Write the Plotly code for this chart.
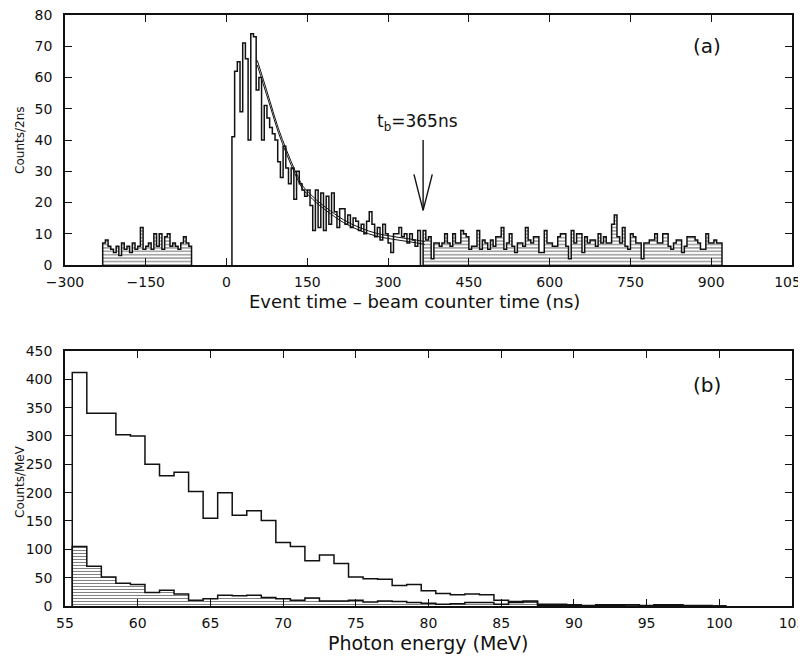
import numpy as np
import plotly.graph_objects as go

# ---- panel (a): event time spectrum, 5 ns bins ----
BIN_A = 5
left_start = -230
left_counts = [7, 8, 6, 5, 4, 6, 3, 7, 5, 6, 4, 7, 5, 6, 12, 5, 6, 7, 5, 10,
               6, 10, 5, 9, 10, 6, 7, 6, 5, 7, 9, 7, 6]

prompt_start = 10
prompt_counts = [41, 62, 65, 49, 71, 66, 40, 74, 73, 56, 60, 40, 51, 47, 44, 42,
                 40, 33, 28, 38, 31, 26, 31, 21, 30, 26, 24, 22, 24, 19, 11, 24,
                 12, 23, 11, 22, 13, 23, 17, 12, 18, 18, 13, 16, 12, 15, 14, 11,
                 13, 10, 14, 17, 13, 9, 12, 8, 13, 10, 7, 4, 10, 10, 12, 9, 10,
                 7, 10, 8, 6, 11]

late_start = 365
late_counts = [11, 8, 9, 2, 7, 7, 6, 7, 10, 7, 6, 10, 7, 7, 11, 10, 9, 5, 6, 6,
               11, 5, 8, 7, 5, 8, 6, 9, 9, 12, 5, 7, 10, 6, 4, 7, 7, 6, 12, 8,
               7, 9, 9, 4, 4, 11, 7, 7, 6, 6, 9, 10, 10, 6, 2, 11, 7, 10, 10, 4,
               9, 7, 8, 8, 6, 10, 7, 9, 7, 7, 13, 16, 9, 7, 12, 6, 5, 10, 9, 7,
               7, 2, 7, 7, 8, 8, 10, 7, 7, 10, 10, 6, 5, 7, 8, 8, 4, 6, 9, 9,
               9, 8, 7, 5, 5, 10, 7, 7, 8, 7, 7]

# two fitted decay curves
fit_t = [57, 68, 81, 96, 112, 127, 142, 155, 167, 186, 217, 248, 279, 310, 341, 368]
fit_upper = [65.5, 59.5, 52.2, 43.8, 36.5, 30.3, 25.2, 22.8, 20.8, 18.2, 14.5,
             11.9, 10.1, 9.1, 8.3, 7.5]
fit_lower = [64.0, 58.0, 50.8, 42.5, 35.3, 29.2, 24.2, 21.9, 19.9, 17.3, 13.6,
             11.0, 9.2, 8.2, 7.4, 6.6]

t_b = 365
arrow_top = 40
arrow_tip = 17.5
arrow_wing_y = 29
arrow_wing_dx = 17

# ---- panel (b): photon energy, 1 MeV bins from 55.5 MeV ----
e_start = 55.5
energy_all = [412, 340, 340, 302, 300, 250, 230, 236, 202, 155, 200, 160, 168,
              151, 112, 105, 80, 90, 75, 51, 48, 47, 36, 38, 27, 22, 20, 21,
              20, 10, 8, 9, 3, 3, 2, 1, 2, 2, 2, 1, 2, 2, 1, 1, 0]
energy_bkg = [105, 70, 51, 40, 38, 24, 28, 21, 10, 13, 19, 18, 19, 15, 13, 10,
              14, 9, 9, 10, 7, 9, 8, 6, 5, 3, 4, 6, 6, 3, 6, 7, 1, 1, 1, 0, 1,
              1, 0, 0, 1, 1, 0, 0, 0]

FONT = "DejaVu Sans"
INK = "#111"


def step_xy(start, width, counts):
    edges = start + width * np.arange(len(counts) + 1)
    xs = [edges[0]] + list(edges[:-1]) + [edges[-1]]
    ys = [0] + list(counts) + [0]
    return xs, ys


def hatched_bars(start, width, counts, xaxis, yaxis, size):
    centers = start + width * (np.arange(len(counts)) + 0.5)
    return go.Bar(
        x=centers, y=counts, width=width,
        marker=dict(color="white", line_width=0,
                    pattern=dict(shape="-", fgcolor="black", bgcolor="white",
                                 size=size, solidity=0.35)),
        xaxis=xaxis, yaxis=yaxis, hoverinfo="skip",
    )


def step_line(start, width, counts, xaxis, yaxis, lw=1.5):
    xs, ys = step_xy(start, width, counts)
    return go.Scatter(x=xs, y=ys, mode="lines", line_shape="hv",
                      line=dict(color=INK, width=lw), xaxis=xaxis, yaxis=yaxis,
                      hoverinfo="skip")


traces = [
    hatched_bars(left_start, BIN_A, left_counts, "x", "y", 3.4),
    hatched_bars(late_start, BIN_A, late_counts, "x", "y", 3.4),
    step_line(left_start, BIN_A, left_counts, "x", "y"),
    step_line(prompt_start, BIN_A, prompt_counts, "x", "y"),
    step_line(late_start, BIN_A, late_counts, "x", "y"),
]
for fit in (fit_upper, fit_lower):
    traces.append(go.Scatter(x=fit_t, y=fit, mode="lines", line_shape="spline",
                             line=dict(color=INK, width=1), xaxis="x", yaxis="y",
                             hoverinfo="skip"))
# arrow marking t_b
traces.append(go.Scatter(
    x=[t_b, t_b, None, t_b - arrow_wing_dx, t_b, t_b + arrow_wing_dx],
    y=[arrow_top, arrow_tip, None, arrow_wing_y, arrow_tip, arrow_wing_y],
    mode="lines", line=dict(color=INK, width=1.4), xaxis="x", yaxis="y",
    hoverinfo="skip"))

traces += [
    hatched_bars(e_start, 1, energy_bkg, "x2", "y2", 3.0),
    step_line(e_start, 1, energy_all, "x2", "y2"),
    step_line(e_start, 1, energy_bkg, "x2", "y2"),
]

fig = go.Figure(traces)

axis_style = dict(
    showline=True, linecolor=INK, linewidth=1.5, mirror="allticks",
    ticks="inside", ticklen=7, tickwidth=1.3, tickcolor=INK,
    showgrid=False, zeroline=False, automargin=False,
    ticklabeloverflow="allow",
    tickfont=dict(family=FONT, size=14, color=INK),
)
x_style = dict(axis_style, ticklabelstandoff=3)
y_style = dict(axis_style, ticklabelstandoff=8)


def label(text, x, y, size, angle=0):
    return dict(text=text, x=x, y=y, xref="paper", yref="paper",
                xanchor="center", yanchor="middle", showarrow=False,
                textangle=angle, font=dict(family=FONT, size=size, color=INK))


# page body adds an 8px offset, so the figure is a bit smaller than the window
fig.update_layout(
    width=798, height=654,
    margin=dict(l=57, r=14, t=7, b=56),
    paper_bgcolor="white", plot_bgcolor="white",
    showlegend=False, bargap=0,
    font=dict(family=FONT, color=INK),
    xaxis=dict(x_style, domain=[0, 1], anchor="y", range=[-300, 1050],
               tickmode="linear", tick0=-300, dtick=150, tickformat="d"),
    yaxis=dict(y_style, domain=[0.577, 1], anchor="x", range=[0, 80],
               tickmode="linear", tick0=0, dtick=10),
    xaxis2=dict(x_style, domain=[0, 1], anchor="y2", range=[55, 105],
                tickmode="linear", tick0=55, dtick=5),
    yaxis2=dict(y_style, domain=[0, 0.4315], anchor="x2", range=[0, 450],
                tickmode="linear", tick0=0, dtick=50),
    annotations=[
        label("Event time – beam counter time (ns)", 0.4814, 0.5155, 18),
        label("Photon energy (MeV)", 0.4993, -0.0626, 19),
        label("Counts/2ns", -0.062, 0.7885, 12, -90),
        label("Counts/MeV", -0.062, 0.2115, 12, -90),
        label("(a)", 0.883, 0.9475, 20),
        label("(b)", 0.883, 0.3739, 20),
        dict(text="t<sub>b</sub>=365ns", x=354, y=45.5, xref="x", yref="y",
             xanchor="center", yanchor="middle", showarrow=False,
             font=dict(family=FONT, size=17, color=INK)),
    ],
)

fig.write_html("out.html")
